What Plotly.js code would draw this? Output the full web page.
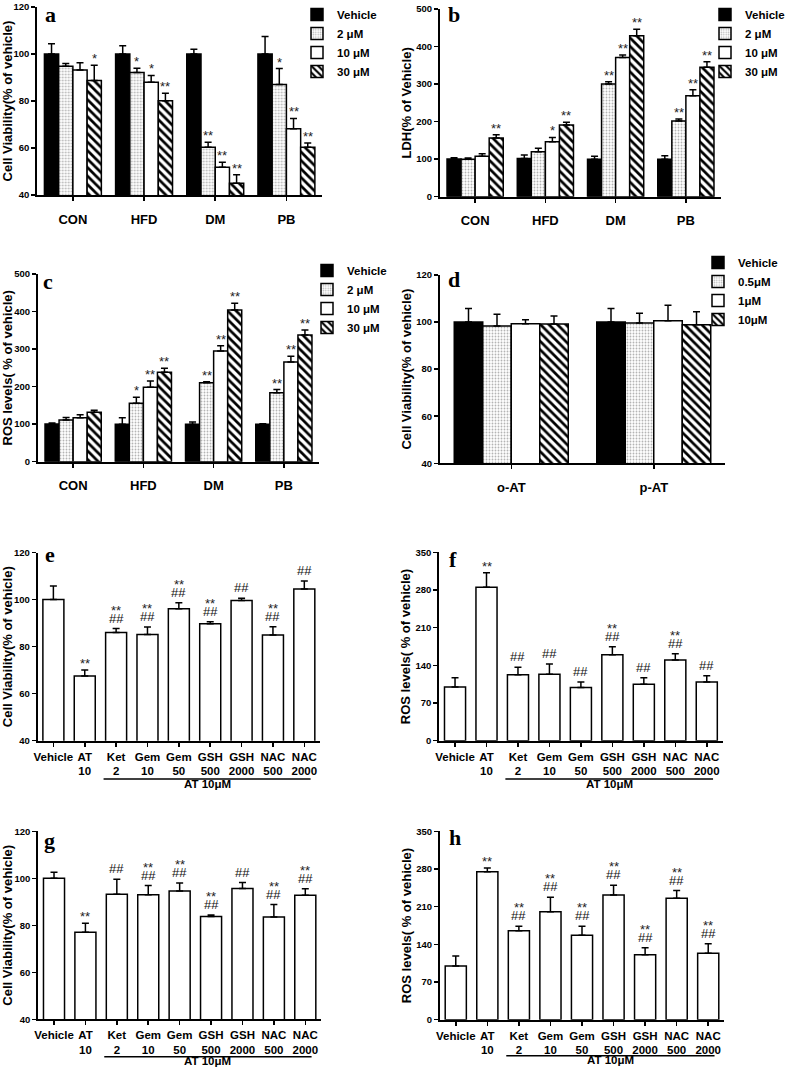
<!DOCTYPE html>
<html><head><meta charset="utf-8">
<script src="https://cdn.plot.ly/plotly-3.0.1.min.js"></script>
<style>html,body{margin:0;padding:0;background:#fff;} #chart{width:787px;height:1076px;}</style>
</head><body><div id="chart"></div>
<script>
// ---------------- DATA ----------------
const groupCats = ['CON', 'HFD', 'DM', 'PB'];
const doseLabels = ['Vehicle', '2 μM', '10 μM', '30 μM'];

// panel a : cell viability (% of vehicle); rows = dose series, columns = groups
const aMeans = [[100, 100, 100, 100], [94.8, 92.1, 60.3, 87.0], [93.2, 88.0, 51.8, 68.2], [88.7, 80.1, 45.0, 60.3]];
const aErrs  = [[4.4, 3.5, 2.0, 7.5], [1.2, 1.8, 2.1, 6.8], [3.1, 2.9, 2.1, 4.4], [6.5, 3.2, 3.6, 1.8]];
const aSig   = [['', '', '', ''], ['', '*', '**', '*'], ['', '*', '**', '**'], ['*', '**', '**', '**']];

// panel b : LDH (% of vehicle)
const bMeans = [[100.4, 102, 99.5, 100], [99.5, 120, 300, 201.6], [107.5, 146.5, 371, 269], [156.3, 191, 429, 344.6]];
const bErrs  = [[3.6, 9, 8, 9], [3.5, 8.8, 6, 5.4], [7.1, 11.5, 6.4, 16], [8.7, 7, 17, 15.1]];
const bSig   = [['', '', '', ''], ['', '', '**', '**'], ['', '*', '**', '**'], ['**', '**', '**', '**']];

// panel c : ROS levels (% of vehicle)
const cMeans = [[100.4, 99.5, 100, 100], [111, 155.4, 210.5, 184], [117, 198, 295, 265.5], [132, 238, 404, 337.5]];
const cErrs  = [[2.6, 17.5, 5.7, 1], [7, 16.6, 2.5, 8], [8, 17, 14, 15.1], [5, 10.7, 18, 13.3]];
const cSig   = [['', '', '', ''], ['', '*', '**', '**'], ['', '**', '**', '**'], ['', '**', '**', '**']];

// panel d : cell viability, isomers
const isomerCats = ['o-AT', 'p-AT'];
const isomerDoseLabels = ['Vehicle', '0.5μM', '1μM', '10μM'];
const dMeans = [[100, 100], [98.3, 99.6], [99.3, 100.6], [99.2, 98.9]];
const dErrs  = [[5.8, 5.8], [5.0, 4.1], [1.7, 6.5], [3.4, 5.5]];

// panels e-h : treatments
const treatNames = ['Vehicle', 'AT', 'Ket', 'Gem', 'Gem', 'GSH', 'GSH', 'NAC', 'NAC'];
const treatDoses = ['', '10', '2', '10', '50', '500', '2000', '500', '2000'];

const eMeans  = [100.1, 67.5, 86.0, 85.2, 96.2, 89.8, 99.7, 85.0, 104.5];
const eErrs   = [5.7, 2.6, 1.7, 3.2, 2.5, 0.8, 0.9, 3.5, 3.5];
const eStars  = ['', '**', '**', '**', '**', '**', '', '**', ''];
const eHashes = ['', '', '##', '##', '##', '##', '##', '##', '##'];

const fMeans  = [99.8, 285, 122.7, 123.3, 99, 159.9, 104.7, 150, 109];
const fErrs   = [17.2, 27, 13.6, 19.2, 10, 14.8, 12.3, 11.7, 11.8];
const fStars  = ['', '**', '', '', '', '**', '', '**', ''];
const fHashes = ['', '', '##', '##', '##', '##', '##', '##', '##'];

const gMeans  = [100, 77, 93.2, 93, 94.6, 83.7, 95.7, 83.5, 92.8];
const gErrs   = [2.6, 3.9, 6.4, 3.9, 3.4, 0.7, 2.5, 5.3, 2.8];
const gStars  = ['', '**', '', '**', '**', '**', '', '**', '**'];
const gHashes = ['', '', '##', '##', '##', '##', '##', '##', '##'];

const hMeans  = [99.8, 275, 165.4, 200.7, 156.8, 231.7, 120.8, 225.5, 123.3];
const hErrs   = [18.5, 7, 8.1, 26.7, 16.7, 18, 13, 14.3, 18];
const hStars  = ['', '**', '**', '**', '**', '**', '**', '**', '**'];
const hHashes = ['', '', '##', '##', '##', '##', '##', '##', '##'];

// ---------------- STYLE / LAYOUT ----------------
const FONT = 'Liberation Sans, Arial, sans-serif';
const SERIF = 'Liberation Serif, Times New Roman, serif';
const W = 787, H = 1076;
const fx = px => px / W;
const fy = py => 1 - py / H;

const geom = {
  a: {l: 37.3, r: 322, t: 7, b: 195},
  b: {l: 440, r: 721, t: 9, b: 196.7},
  c: {l: 38, r: 319, t: 274, b: 461.7},
  d: {l: 440, r: 725, t: 275, b: 463.3},
  e: {l: 37.7, r: 320, t: 552.7, b: 740.7},
  f: {l: 439.3, r: 722.5, t: 552.3, b: 740.7},
  g: {l: 38.3, r: 321, t: 831.3, b: 1019.3},
  h: {l: 440, r: 724, t: 831.3, b: 1019.7}
};

const doseStyles = [
  {color: 'black'},
  {color: 'white', pattern: {shape: '.', fgcolor: '#b4b4b4', bgcolor: 'white', size: 3, solidity: 0.3}},
  {color: 'white'},
  {color: 'white', pattern: {shape: '\\', fgcolor: 'black', bgcolor: 'white', size: 6, solidity: 0.45}}
];

const layout = {
  width: W, height: H,
  margin: {l: 0, r: 0, t: 0, b: 0, autoexpand: false},
  paper_bgcolor: 'white', plot_bgcolor: 'rgba(0,0,0,0)',
  barmode: 'group', bargap: 0.2, bargroupgap: 0,
  font: {family: FONT, color: 'black'},
  showlegend: true,
  annotations: [], shapes: []
};
const traces = [];

function sfx(n) { return n === 1 ? '' : String(n); }

function setAxes(n, g, yRange, dtick, yTitle, tickvals, ticktext, xRange, catSize, standoff) {
  const s = sfx(n);
  layout['xaxis' + s] = {
    domain: [fx(g.l), fx(g.r)], anchor: 'y' + s, range: xRange,
    tickmode: 'array', tickvals: tickvals, ticktext: ticktext,
    showline: true, linewidth: 2, linecolor: 'black',
    ticks: 'outside', ticklen: 4, tickwidth: 1.5, tickcolor: 'black',
    showgrid: false, zeroline: false, fixedrange: true,
    tickfont: {family: FONT, size: catSize, weight: 'bold', color: 'black'},
    ticklabelstandoff: standoff
  };
  layout['yaxis' + s] = {
    domain: [fy(g.b), fy(g.t)], anchor: 'x' + s, range: yRange,
    tick0: 0, dtick: dtick,
    showline: true, linewidth: 2, linecolor: 'black',
    ticks: 'outside', ticklen: 4, tickwidth: 1.5, tickcolor: 'black',
    showgrid: false, zeroline: false, fixedrange: true,
    tickfont: {family: FONT, size: 9.5, weight: 'bold', color: 'black'},
    title: {text: yTitle, font: {family: FONT, size: 13, weight: 'bold', color: 'black'}, standoff: 2}
  };
}

function addLetter(letter, xLeft, yTop) {
  layout.annotations.push({
    xref: 'paper', yref: 'paper', x: fx(xLeft), y: fy(yTop),
    xanchor: 'left', yanchor: 'top', showarrow: false, text: letter, borderpad: 0,
    font: {family: SERIF, size: 22, weight: 'bold', color: 'black'}
  });
}

function grouped(n, cats, labels, means, errs, sigs, legendId) {
  const s = sfx(n);
  const nSeries = means.length;
  means.forEach((m, j) => {
    const st = doseStyles[j];
    const marker = {color: st.color, line: {color: 'black', width: 1.5}};
    if (st.pattern) marker.pattern = st.pattern;
    traces.push({
      type: 'bar', x: cats.map((_, i) => i), y: m, name: labels[j],
      xaxis: 'x' + s, yaxis: 'y' + s, legend: legendId,
      marker: marker, hoverinfo: 'skip',
      error_y: {type: 'data', symmetric: false, array: errs[j], arrayminus: m.map(() => 0),
                color: 'black', thickness: 1.5, width: 3.5}
    });
    if (sigs) {
      m.forEach((v, i) => {
        if (sigs[j][i]) layout.annotations.push({
          xref: 'x' + s, yref: 'y' + s, x: i + (j - (nSeries - 1) / 2) * 0.2, y: v + errs[j][i],
          yanchor: 'bottom', yshift: -3, showarrow: false, text: sigs[j][i],
          font: {family: FONT, size: 13, color: '#222'}
        });
      });
    }
  });
}

function single(n, means, errs, stars, hashes) {
  const s = sfx(n);
  traces.push({
    type: 'bar', x: means.map((_, i) => i), y: means, width: 0.67, showlegend: false,
    xaxis: 'x' + s, yaxis: 'y' + s, hoverinfo: 'skip',
    marker: {color: 'white', line: {color: 'black', width: 1.5}},
    error_y: {type: 'data', symmetric: false, array: errs, arrayminus: means.map(() => 0),
              color: 'black', thickness: 1.5, width: 3.5}
  });
  means.forEach((v, i) => {
    const top = v + errs[i];
    if (hashes[i]) layout.annotations.push({
      xref: 'x' + s, yref: 'y' + s, x: i, y: top, yanchor: 'bottom', yshift: 1,
      showarrow: false, text: hashes[i], font: {family: FONT, size: 13, color: '#111'}
    });
    if (stars[i]) layout.annotations.push({
      xref: 'x' + s, yref: 'y' + s, x: i, y: top, yanchor: 'bottom', yshift: hashes[i] ? 9 : -3,
      showarrow: false, text: stars[i], font: {family: FONT, size: 13, color: '#222'}
    });
  });
}

function treatmentExtras(n, rowTwoY, lineY, groupLabelY) {
  const s = sfx(n);
  layout.shapes.push({type: 'line', xref: 'x' + s, yref: 'paper', x0: 1.6, x1: 8.2,
                      y0: fy(lineY), y1: fy(lineY), line: {color: 'black', width: 1.5}});
  layout.annotations.push({xref: 'x' + s, yref: 'paper', x: 4.9, y: fy(groupLabelY), showarrow: false,
                           text: 'AT 10μM', borderpad: 0, font: {family: FONT, size: 11.5, weight: 'bold'}});
  layout.annotations.push({xref: 'x' + s, yref: 'paper', x: 8.87, y: fy(rowTwoY), showarrow: false,
                           text: 'μM', borderpad: 0, font: {family: FONT, size: 11.5, weight: 'bold'}});
}

function legendAt(xLeft, yTop) {
  return {x: fx(xLeft), y: fy(yTop), xanchor: 'left', yanchor: 'top', orientation: 'v',
          bgcolor: 'rgba(0,0,0,0)', borderwidth: 0, tracegroupgap: 0, itemclick: false, itemdoubleclick: false,
          font: {family: FONT, size: 11.5, weight: 'bold', color: 'black'}};
}

// ----- panels a-d -----
const grpVals = groupCats.map((_, i) => i);
setAxes(1, geom.a, [40, 120], 20, 'Cell Viability(% of vehicle)', grpVals, groupCats, [-0.5, 3.5], 13, 7);
grouped(1, groupCats, doseLabels, aMeans, aErrs, aSig, 'legend');
layout.legend = legendAt(297, 0);
addLetter('a', 44, 1);

setAxes(2, geom.b, [0, 500], 100, 'LDH(% of Vehicle)', grpVals, groupCats, [-0.5, 3.5], 13, 7);
grouped(2, groupCats, doseLabels, bMeans, bErrs, bSig, 'legend2');
layout.legend2 = legendAt(705, 0);
addLetter('b', 447, 1);

setAxes(3, geom.c, [0, 500], 100, 'ROS levels( % of vehicle)', grpVals, groupCats, [-0.5, 3.5], 13, 7);
grouped(3, groupCats, doseLabels, cMeans, cErrs, cSig, 'legend3');
layout.legend3 = legendAt(307, 256);
addLetter('c', 42, 268);

const isoVals = isomerCats.map((_, i) => i);
setAxes(4, geom.d, [40, 120], 20, 'Cell Viability(% of vehicle)', isoVals, isomerCats, [-0.5, 1.5], 13, 7);
grouped(4, isomerCats, isomerDoseLabels, dMeans, dErrs, null, 'legend4');
layout.legend4 = legendAt(698, 248);
addLetter('d', 447, 266);

// ----- panels e-h -----
const treatVals = treatNames.map((_, i) => i);
const treatText = treatNames.map((t, i) => treatDoses[i] ? t + '<br>' + treatDoses[i] : t);

setAxes(5, geom.e, [40, 120], 20, 'Cell Viability(% of vehicle)', treatVals, treatText, [-0.5, 8.5], 11.5, 0);
single(5, eMeans, eErrs, eStars, eHashes);
treatmentExtras(5, 772, 779, 791);
addLetter('e', 44, 541);

setAxes(6, geom.f, [0, 350], 70, 'ROS levels( % of vehicle)', treatVals, treatText, [-0.5, 8.5], 11.5, 0);
single(6, fMeans, fErrs, fStars, fHashes);
treatmentExtras(6, 772, 779, 791);
addLetter('f', 448, 546);

setAxes(7, geom.g, [40, 120], 20, 'Cell Viability(% of vehicle)', treatVals, treatText, [-0.5, 8.5], 11.5, 0);
single(7, gMeans, gErrs, gStars, gHashes);
treatmentExtras(7, 1050, 1056.7, 1068);
addLetter('g', 43, 827);

setAxes(8, geom.h, [0, 350], 70, 'ROS levels( % of vehicle)', treatVals, treatText, [-0.5, 8.5], 11.5, 0);
single(8, hMeans, hErrs, hStars, hHashes);
treatmentExtras(8, 1048, 1055.7, 1067);
addLetter('h', 448, 824);

Plotly.newPlot('chart', traces, layout, {staticPlot: true, displayModeBar: false});
</script>
</body></html>
